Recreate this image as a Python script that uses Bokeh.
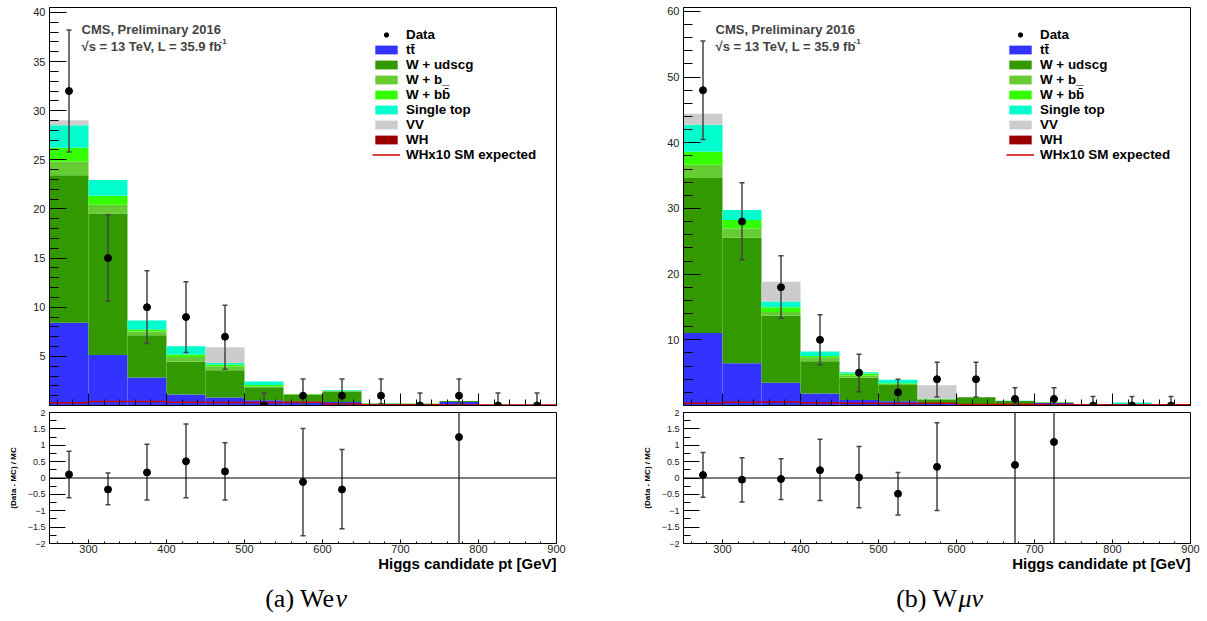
import numpy as np
from bokeh.plotting import figure
from bokeh.layouts import row, column
from bokeh.models import (FixedTicker, Range1d, Label, Legend, LegendItem, Span, Title,
                          CustomJSTickFormatter)
from bokeh.core.properties import value
from bokeh.embed import file_html
from bokeh.resources import INLINE

# ---------------- data ----------------
bin_edges = [250, 300, 350, 400, 450, 500, 550, 600, 650, 700, 750, 800, 850, 900]
process_names = ["tt\u0304", "W + udscg", "W + b_", "W + bb\u0304", "Single top", "VV", "WH"]
process_colors = ["#3333ff", "#339900", "#66cc33", "#33ff00", "#00ffcc", "#cccccc", "#990000"]
stack_order = [6, 0, 1, 2, 3, 4, 5]   # WH at the bottom, VV on top

# (a) W e nu
a_ttbar = [8.4, 5.1, 2.8, 1.1, 0.78, 0.5, 0.34, 0.34, 0.05, 0.05, 0.34, 0.02, 0.02]
a_wudscg = [15.0, 14.4, 4.3, 3.36, 2.77, 1.32, 0.76, 1.08, 0.15, 0.13, 0.11, 0.03, 0.03]
a_wb = [1.4, 0.9, 0.4, 0.44, 0.4, 0.08, 0.02, 0.03, 0.0, 0.0, 0.0, 0.0, 0.0]
a_wbb = [1.4, 0.9, 0.2, 0.27, 0.2, 0.15, 0.02, 0.03, 0.0, 0.01, 0.0, 0.0, 0.0]
a_stop = [2.3, 1.6, 0.9, 0.83, 0.15, 0.35, 0.01, 0.07, 0.02, 0.01, 0.0, 0.0, 0.0]
a_vv = [0.5, 0.0, 0.0, 0.0, 1.6, 0.0, 0.0, 0.0, 0.0, 0.0, 0.0, 0.0, 0.0]
a_wh = [0.03, 0.04, 0.04, 0.03, 0.03, 0.03, 0.03, 0.015, 0.01, 0.01, 0.01, 0.005, 0.005]
a_wh10 = [0.28, 0.4, 0.4, 0.34, 0.3, 0.3, 0.34, 0.14, 0.07, 0.07, 0.06, 0.05, 0.04]
a_data = [32, 15, 10, 9, 7, 0, 1, 1, 1, 0, 1, 0, 0]
a_data_lo = [25.8, 10.6, 6.3, 5.4, 3.7, 0.0, 0.17, 0.17, 0.17, 0.0, 0.17, 0.0, 0.0]
a_data_hi = [38.2, 19.4, 13.7, 12.6, 10.2, 1.28, 2.7, 2.7, 2.7, 1.28, 2.7, 1.28, 1.28]
a_ratio_x = [275, 325, 375, 425, 475, 575, 625, 775]
a_ratio = [0.11, -0.35, 0.17, 0.51, 0.2, -0.12, -0.35, 1.25]
a_ratio_lo = [-0.6, -0.82, -0.67, -0.6, -0.67, -1.76, -1.55, -3.0]
a_ratio_hi = [0.82, 0.15, 1.03, 1.65, 1.08, 1.51, 0.87, 3.0]
a_yticks = [5, 10, 15, 20, 25, 30, 35, 40]
a_yminor = list(range(1, 41))

# (b) W mu nu
b_ttbar = [11.0, 6.4, 3.4, 1.77, 0.8, 0.6, 0.3, 0.1, 0.05, 0.35, 0.05, 0.05, 0.05]
b_wudscg = [23.6, 19.1, 10.2, 4.93, 3.4, 2.5, 0.6, 1.16, 0.6, 0.1, 0.05, 0.05, 0.05]
b_wb = [2.0, 1.4, 0.6, 0.6, 0.35, 0.15, 0.05, 0.0, 0.0, 0.01, 0.0, 0.0, 0.0]
b_wbb = [2.0, 1.3, 0.7, 0.2, 0.3, 0.1, 0.05, 0.0, 0.02, 0.01, 0.0, 0.0, 0.0]
b_stop = [4.1, 1.5, 0.9, 0.7, 0.2, 0.55, 0.05, 0.0, 0.05, 0.01, 0.02, 0.35, 0.02]
b_vv = [1.7, 0.0, 3.0, 0.0, 0.0, 0.0, 2.0, 0.0, 0.0, 0.0, 0.0, 0.0, 0.0]
b_wh = [0.04, 0.05, 0.05, 0.04, 0.03, 0.03, 0.03, 0.015, 0.02, 0.015, 0.01, 0.01, 0.01]
b_wh10 = [0.35, 0.5, 0.55, 0.4, 0.35, 0.3, 0.35, 0.15, 0.2, 0.15, 0.1, 0.1, 0.1]
b_data = [48, 28, 18, 10, 5, 2, 4, 4, 1, 1, 0, 0, 0]
b_data_lo = [40.5, 22.2, 13.3, 6.2, 2.1, 0.5, 1.3, 1.3, 0.17, 0.17, 0.0, 0.0, 0.0]
b_data_hi = [55.5, 33.9, 22.8, 13.8, 7.8, 4.0, 6.6, 6.6, 2.7, 2.7, 1.36, 1.36, 1.36]
b_ratio_x = [275, 325, 375, 425, 475, 525, 575, 675, 725]
b_ratio = [0.09, -0.05, -0.03, 0.24, 0.02, -0.48, 0.34, 0.4, 1.1]
b_ratio_lo = [-0.59, -0.73, -0.66, -0.69, -0.91, -1.13, -0.99, -3.0, -3.0]
b_ratio_hi = [0.78, 0.62, 0.59, 1.18, 0.96, 0.17, 1.69, 3.0, 3.0]
b_yticks = [10, 20, 30, 40, 50, 60]
b_yminor = list(range(2, 61, 2))

x_ticks = [300, 400, 500, 600, 700, 800, 900]
x_minor = list(range(260, 901, 20))
ratio_ticks = [-2, -1.5, -1, -0.5, 0, 0.5, 1, 1.5, 2]
ratio_minor = [-1.75, -1.25, -0.75, -0.25, 0.25, 0.75, 1.25, 1.75]

SANS = "Liberation Sans"
FRAME_W = 507
MAIN_H = 398
RATIO_H = 131
CAP_H = 44


def style_axis(ax, major_in, minor_in, size, standoff):
    ax.major_tick_in = major_in
    ax.major_tick_out = 0
    ax.minor_tick_in = minor_in
    ax.minor_tick_out = 0
    ax.major_label_text_font = SANS
    ax.major_label_text_font_size = size
    ax.major_label_text_color = "#222222"
    ax.major_label_standoff = standoff
    ax.axis_line_color = "black"
    ax.major_tick_line_color = "black"
    ax.minor_tick_line_color = "black"


def draw_errors(fig, xs, ys, lo, hi):
    fig.segment(x0=xs, y0=lo, x1=xs, y1=hi, line_color="#444444", line_width=1.5)
    fig.scatter(x=xs, y=lo, marker="dash", size=5, line_color="#444444", line_width=1.5)
    fig.scatter(x=xs, y=hi, marker="dash", size=5, line_color="#444444", line_width=1.5)
    return fig.scatter(x=xs, y=ys, marker="circle", size=7, fill_color="black", line_color="black")


def make_panel(comps, wh10, data, dlo, dhi, rx, rv, rlo, rhi, ymax, yticks, yminor,
               border_left, border_right, cap_upright, cap_italic, cap_split):
    lefts = bin_edges[:-1]
    rights = bin_edges[1:]
    centers = [(l + r) / 2 for l, r in zip(lefts, rights)]
    xr = Range1d(250, 900)

    p = figure(frame_width=FRAME_W, frame_height=MAIN_H, x_range=xr, y_range=Range1d(0, ymax),
               output_backend="svg", toolbar_location=None, min_border_left=border_left,
               min_border_right=border_right, min_border_top=7, min_border_bottom=3)
    p.grid.visible = False
    p.outline_line_color = "black"

    bottom = np.zeros(len(lefts))
    rends = [None] * len(comps)
    for idx in stack_order:
        top = bottom + np.array(comps[idx])
        rends[idx] = p.quad(left=lefts, right=rights, bottom=bottom, top=top,
                            fill_color=process_colors[idx], line_color=None)
        bottom = top
    step = p.step(x=bin_edges, y=list(wh10) + [wh10[-1]], mode="after",
                  line_color="#cc0000", line_width=1.5)
    pts = draw_errors(p, centers, data, dlo, dhi)

    style_axis(p.yaxis[0], 17, 9, "11px", 4)
    p.yaxis[0].ticker = FixedTicker(ticks=yticks, minor_ticks=yminor)
    style_axis(p.xaxis[0], 12, 6, "1px", 0)
    p.xaxis[0].major_label_text_color = None
    p.xaxis[0].ticker = FixedTicker(ticks=x_ticks, minor_ticks=x_minor)

    items = [LegendItem(label="Data", renderers=[pts])]
    for name, r in zip(process_names, rends):
        items.append(LegendItem(label=name, renderers=[r]))
    items.append(LegendItem(label="WHx10 SM expected", renderers=[step]))
    leg = Legend(items=items, location=(323, 243), border_line_alpha=0,
                 background_fill_alpha=0, padding=0, margin=0, spacing=0,
                 glyph_width=28, glyph_height=11, label_height=15, label_standoff=6,
                 label_text_font=SANS, label_text_font_style="bold",
                 label_text_font_size="13.4px", label_text_color="black")
    p.add_layout(leg)

    p.add_layout(Label(x=32, y=MAIN_H - 22, x_units="screen", y_units="screen",
                       text="CMS, Preliminary 2016", text_font=SANS, text_font_style="bold",
                       text_font_size="13px", text_baseline="middle"))
    p.add_layout(Label(x=32, y=MAIN_H - 39, x_units="screen", y_units="screen",
                       text="\u221as = 13 TeV, L = 35.9 fb", text_font=SANS,
                       text_font_style="bold", text_font_size="13px", text_baseline="middle"))
    p.add_layout(Label(x=170, y=MAIN_H - 34, x_units="screen", y_units="screen",
                       text="-1", text_font=SANS, text_font_style="bold",
                       text_font_size="8px", text_baseline="middle"))

    r = figure(frame_width=FRAME_W, frame_height=RATIO_H, x_range=xr, y_range=Range1d(-2, 2),
               output_backend="svg", toolbar_location=None, min_border_left=border_left,
               min_border_right=border_right, min_border_top=4, min_border_bottom=34)
    r.grid.visible = False
    r.outline_line_color = "black"
    r.add_layout(Span(location=0, dimension="width", line_color="black", line_width=1))
    draw_errors(r, rx, rv, rlo, rhi)
    style_axis(r.yaxis[0], 16, 7, "9px", 4)
    r.yaxis[0].ticker = FixedTicker(ticks=ratio_ticks, minor_ticks=ratio_minor)
    r.yaxis[0].formatter = CustomJSTickFormatter(code="return String(tick).replace('-', '\\u2212');")
    r.yaxis[0].axis_label = "(Data - MC) / MC"
    r.yaxis[0].axis_label_text_font = SANS
    r.yaxis[0].axis_label_text_font_style = "bold"
    r.yaxis[0].axis_label_text_font_size = "8px"
    r.yaxis[0].axis_label_text_color = "black"
    r.yaxis[0].axis_label_standoff = 7
    style_axis(r.xaxis[0], 4, 2, "11px", 1)
    r.xaxis[0].ticker = FixedTicker(ticks=x_ticks, minor_ticks=x_minor)
    r.add_layout(Title(text="Higgs candidate pt [GeV]", align="right", text_font=SANS,
                       text_font_style="bold", text_font_size="15px", text_color="black",
                       standoff=-5), "below")

    c = figure(frame_width=FRAME_W, frame_height=CAP_H, x_range=xr, y_range=Range1d(0, CAP_H),
               output_backend="svg", toolbar_location=None, min_border_left=border_left,
               min_border_right=border_right, min_border_top=0, min_border_bottom=0,
               x_axis_location=None, y_axis_location=None)
    c.grid.visible = False
    c.outline_line_color = None
    c.text(x=[577], y=[23], text=[cap_upright], text_align="right", text_baseline="middle",
           x_offset=cap_split, text_font=value("Liberation Serif"), text_font_size="26px",
           text_color="black")
    c.text(x=[577], y=[23], text=[cap_italic], text_align="left", text_baseline="middle",
           x_offset=cap_split + 1, text_font=value("Liberation Serif"), text_font_size="26px",
           text_font_style="italic", text_color="black")
    return column(p, r, c, spacing=0)


panel_a = make_panel([a_ttbar, a_wudscg, a_wb, a_wbb, a_stop, a_vv, a_wh], a_wh10,
                     a_data, a_data_lo, a_data_hi, a_ratio_x, a_ratio, a_ratio_lo, a_ratio_hi,
                     40.5, a_yticks, a_yminor, 49, 60, "(a) We", "\u03bd", 30)
panel_b = make_panel([b_ttbar, b_wudscg, b_wb, b_wbb, b_stop, b_vv, b_wh], b_wh10,
                     b_data, b_data_lo, b_data_hi, b_ratio_x, b_ratio, b_ratio_lo, b_ratio_hi,
                     60.6, b_yticks, b_yminor, 67, 17, "(b) W", "\u03bc\u03bd", 19)

layout = row(panel_a, panel_b, spacing=0)
open("out.html", "w").write(file_html(layout, INLINE))
